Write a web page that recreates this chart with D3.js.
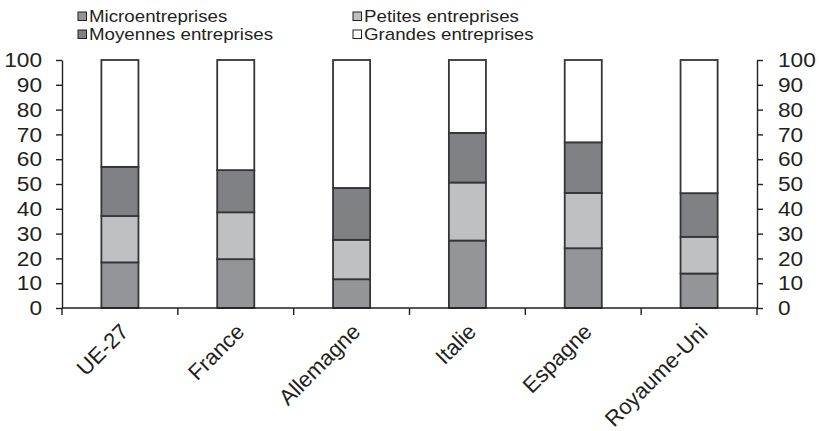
<!DOCTYPE html>
<html>
<head>
<meta charset="utf-8">
<script src="https://cdn.jsdelivr.net/npm/d3@7"></script>
<style>
  html, body { margin: 0; padding: 0; background: #fff; }
  svg { display: block; font-family: "Liberation Sans", Arial, Helvetica, sans-serif; }
</style>
</head>
<body>
<svg id="chart" width="819" height="431"></svg>
<script>
// Share of each enterprise size class (%), by country
const countries = ["UE-27", "France", "Allemagne", "Italie", "Espagne", "Royaume-Uni"];
const micro    = [18.4, 19.7, 11.6, 27.2, 24.1, 13.9];
const petites  = [18.7, 18.9, 15.9, 23.4, 22.3, 14.8];
const moyennes = [19.8, 17.0, 20.9, 20.0, 20.4, 17.6];
const grandes  = [43.1, 44.4, 51.6, 29.4, 33.2, 53.7];
const seriesNames = ["Microentreprises", "Petites entreprises", "Moyennes entreprises", "Grandes entreprises"];
const seriesKeys = ["micro", "petites", "moyennes", "grandes"];
const yTicks = [0, 10, 20, 30, 40, 50, 60, 70, 80, 90, 100];

const colors = { micro: "#939598", petites: "#bfc0c2", moyennes: "#808184", grandes: "#ffffff" };
const ink = "#231f20";
const barStroke = "#353537";

const rows = countries.map((c, i) => ({
  country: c, micro: micro[i], petites: petites[i], moyennes: moyennes[i], grandes: grandes[i]
}));
const stacked = d3.stack().keys(seriesKeys)(rows);

const svg = d3.select("#chart");
const plotLeft = 62, plotRight = 757, plotTop = 60, plotBottom = 308;

const x = d3.scaleBand().domain(countries).range([plotLeft, plotRight]).padding(0);
const y = d3.scaleLinear().domain([0, 100]).range([plotBottom, plotTop]);
const barW = x.bandwidth() * 0.32;

// Stacked bars
const layers = svg.append("g").selectAll("g").data(stacked).join("g")
  .attr("fill", d => colors[d.key]);
layers.selectAll("rect").data(d => d).join("rect")
  .attr("x", d => x(d.data.country) + (x.bandwidth() - barW) / 2)
  .attr("y", d => y(d[1]))
  .attr("width", barW)
  .attr("height", d => y(d[0]) - y(d[1]))
  .attr("stroke", barStroke)
  .attr("stroke-width", 1.8);

// Value axes on both sides
function styleAxis(g, stretch) {
  g.select(".domain").attr("stroke", ink).attr("stroke-width", 1.4);
  g.selectAll(".tick line").attr("stroke", ink).attr("stroke-width", 1.4);
  g.selectAll(".tick text")
    .attr("fill", ink)
    .style("font-size", "21px")
    .each(function () {
      const t = d3.select(this);
      const tx = +t.attr("x");
      t.attr("x", 0).attr("transform", `translate(${tx},0) scale(${stretch},1)`);
    });
}
const yAxisL = svg.append("g").attr("transform", `translate(${plotLeft},0)`)
  .call(d3.axisLeft(y).tickValues(yTicks).tickSize(6).tickPadding(14).tickSizeOuter(0));
styleAxis(yAxisL, 1.08);
const yAxisR = svg.append("g").attr("transform", `translate(${plotRight},0)`)
  .call(d3.axisRight(y).tickValues(yTicks).tickSize(6).tickPadding(15).tickSizeOuter(0));
styleAxis(yAxisR, 1.08);

// Category axis: baseline with ticks between categories
const xAxis = svg.append("g").attr("transform", `translate(0,${plotBottom})`);
xAxis.append("line").attr("x1", plotLeft).attr("x2", plotRight).attr("stroke", ink).attr("stroke-width", 1.4);
const bounds = countries.map(c => x(c)).concat([x.range()[1]]);
xAxis.selectAll("line.tick").data(bounds).join("line")
  .attr("class", "tick")
  .attr("x1", d => d).attr("x2", d => d).attr("y1", 0).attr("y2", 7)
  .attr("stroke", ink).attr("stroke-width", 1.4);
xAxis.selectAll("text").data(countries).join("text")
  .attr("transform", d => `translate(${x(d) + x.bandwidth() / 2 + 10},${25}) rotate(-45)`)
  .attr("text-anchor", "end")
  .attr("fill", ink)
  .style("font-size", "22px")
  .text(d => d);

// Legend (two columns)
const legend = svg.append("g");
const legendPos = [[78, 12], [353, 12], [78, 30], [353, 30]];
seriesKeys.forEach((k, i) => {
  const [lx, ly] = legendPos[i];
  legend.append("rect")
    .attr("x", lx).attr("y", ly).attr("width", 8.5).attr("height", 8.5)
    .attr("fill", colors[k]).attr("stroke", ink).attr("stroke-width", 1);
  legend.append("text")
    .attr("transform", `translate(${lx + 11},${ly + 10}) scale(1.17,1)`)
    .attr("fill", ink)
    .style("font-size", "16px")
    .text(seriesNames[i]);
});
</script>
</body>
</html>
